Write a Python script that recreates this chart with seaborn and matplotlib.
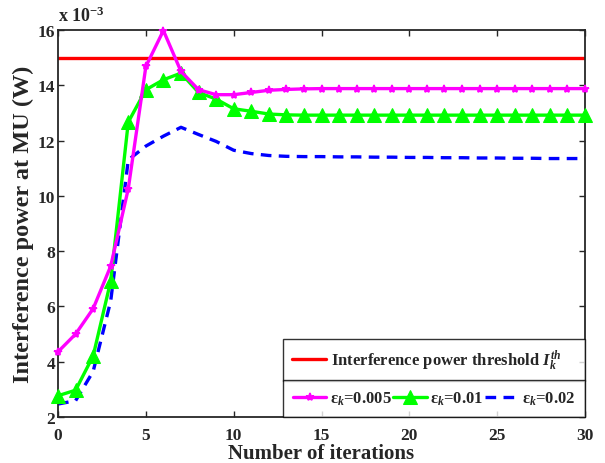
import matplotlib
matplotlib.use("Agg")
import matplotlib.pyplot as plt
import seaborn as sns
import pandas as pd

# Iteration index and interference power at the MU (in units of 1e-3 W)
iterations = list(range(31))
power_eps_0005 = [4.36, 5.00, 5.92, 7.46, 10.26, 14.68, 15.98, 14.50, 13.84, 13.66,
                  13.66, 13.74, 13.82, 13.85, 13.87, 13.88, 13.88, 13.88, 13.88, 13.88,
                  13.88, 13.88, 13.88, 13.88, 13.88, 13.88, 13.88, 13.88, 13.88, 13.88, 13.88]
power_eps_001 = [2.77, 2.97, 4.21, 6.92, 12.67, 13.84, 14.20, 14.44, 13.74, 13.50,
                 13.15, 13.06, 12.96, 12.93, 12.92, 12.92, 12.92, 12.92, 12.92, 12.92,
                 12.92, 12.92, 12.92, 12.92, 12.92, 12.92, 12.92, 12.92, 12.92, 12.92, 12.92]
power_eps_002 = [2.47, 2.59, 3.65, 6.20, 11.30, 11.80, 12.16, 12.48, 12.22, 11.97,
                 11.65, 11.53, 11.46, 11.43, 11.42, 11.42, 11.41, 11.41, 11.40, 11.40,
                 11.39, 11.39, 11.38, 11.38, 11.37, 11.37, 11.36, 11.36, 11.35, 11.35, 11.35]
threshold = 15.0

labels = ["ε$_k$=0.005", "ε$_k$=0.01", "ε$_k$=0.02"]
threshold_label = r"Interference power threshold $I_k^{th}$"
x_ticks = [0, 5, 10, 15, 20, 25, 30]
y_ticks = [2, 4, 6, 8, 10, 12, 14, 16]

df = pd.DataFrame({
    "iter": iterations,
    "e1": power_eps_0005,
    "e2": power_eps_001,
    "e3": power_eps_002,
})

sns.set_style("ticks")
plt.rcParams["font.family"] = ["Liberation Serif", "DejaVu Serif"]
plt.rcParams["font.weight"] = "bold"
plt.rcParams["mathtext.fontset"] = "custom"
plt.rcParams["mathtext.rm"] = "Liberation Serif:bold"
plt.rcParams["mathtext.it"] = "Liberation Serif:italic:bold"
plt.rcParams["mathtext.bf"] = "Liberation Serif:bold"

fig = plt.figure(figsize=(6.05, 4.64), dpi=100)
ax = fig.add_axes([0.0959, 0.0991, 0.8711, 0.8341])

ax.axhline(threshold, color="#ff0000", lw=2.4, label=threshold_label, zorder=2)

sns.lineplot(data=df, x="iter", y="e1", ax=ax, color="#ff00ff", lw=2.4,
             marker="*", markersize=6, markeredgewidth=1.2,
             markeredgecolor="#ff00ff", label=labels[0], clip_on=False, zorder=4)
sns.lineplot(data=df, x="iter", y="e2", ax=ax, color="#00ff00", lw=2.4,
             marker="^", markersize=10, markeredgecolor="#00ff00",
             label=labels[1], clip_on=False, zorder=3)
sns.lineplot(data=df, x="iter", y="e3", ax=ax, color="#0000ff", lw=2.4,
             linestyle=(0, (3.2, 2.2)), label=labels[2], zorder=2)

ax.set_xlim(0, 30)
ax.set_ylim(2, 16)
ax.set_xticks(x_ticks)
ax.set_yticks(y_ticks)
ax.set_xticklabels([str(v) for v in x_ticks], fontsize=12.5, fontweight="bold")
ax.set_yticklabels([str(v) for v in y_ticks], fontsize=12.5, fontweight="bold")
ax.tick_params(direction="in", top=True, right=True, length=4, width=1)
ax.tick_params(axis="x", pad=7)
ax.tick_params(axis="y", pad=2)
for sp in ax.spines.values():
    sp.set_visible(True)
    sp.set_linewidth(1.3)

ax.set_xlabel("Number of iterations", fontsize=15, fontweight="bold", labelpad=0)
ax.set_ylabel("Interference power at MU (W)", fontsize=17.5, fontweight="bold", labelpad=3)
ax.text(0.0, 1.012, r"x 10$^{-3}$", transform=ax.transAxes, fontsize=13,
        fontweight="bold", ha="left", va="bottom")

handles, hl = ax.get_legend_handles_labels()
if ax.get_legend():
    ax.get_legend().remove()

leg_kw = dict(frameon=True, fancybox=False, edgecolor="black", borderaxespad=0,
              mode="expand", prop={"weight": "bold", "size": 12})
leg_top = ax.legend([handles[0]], [hl[0]], loc="lower left",
                    bbox_to_anchor=(0.427, 0.093, 0.573, 0.111),
                    handlelength=2.0, handletextpad=0.35, borderpad=0.55, **leg_kw)
leg_top.get_frame().set_linewidth(1.0)
ax.add_artist(leg_top)
leg_bot = ax.legend(handles[1:], hl[1:], loc="lower left",
                    bbox_to_anchor=(0.427, 0.0, 0.573, 0.093), ncol=3,
                    handlelength=2.0, handletextpad=0.2, columnspacing=0.6,
                    borderpad=0.6, **leg_kw)
leg_bot.get_frame().set_linewidth(1.0)

fig.savefig("out.png", dpi=100)
